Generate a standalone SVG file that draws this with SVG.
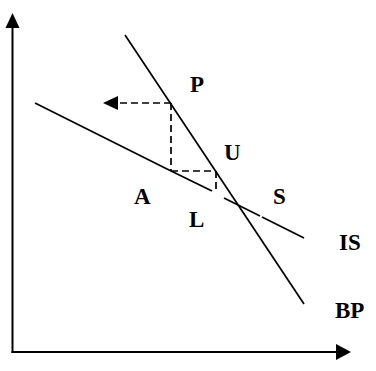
<svg xmlns="http://www.w3.org/2000/svg" width="376" height="371" viewBox="0 0 376 371">
<style>
.ln{stroke:#000;stroke-width:1.7;fill:none}
.ax{stroke:#000;stroke-width:2;fill:none}
.ds{stroke:#000;stroke-width:1.7;fill:none;stroke-dasharray:7 4}
.lb{font-family:"Liberation Serif","Times New Roman",serif;font-weight:bold;font-size:23px;fill:#000}
</style>
<rect width="376" height="371" fill="#fff"/>
<g id="axes">
<line class="ax" x1="12.5" y1="353" x2="12.5" y2="26"/>
<polygon points="12.5,13 5.5,28 19.5,28" fill="#000"/>
<line class="ax" x1="11.5" y1="352" x2="338" y2="352"/>
<polygon points="351,352 336,344 336,360" fill="#000"/>
</g>
<g id="connectors">
<line id="BP-line" class="ln" x1="125" y1="35" x2="304" y2="304"/>
<polyline id="IS-upper" class="ln" points="35,103 167,169 212,191"/>
<line id="IS-lower1" class="ln" x1="224" y1="198" x2="260" y2="216"/>
<line id="IS-lower2" class="ln" x1="262" y1="217" x2="304" y2="238"/>
<line class="ds" x1="171" y1="103" x2="117" y2="103"/>
<polygon points="103,103 118,96 118,110" fill="#000"/>
<line class="ds" x1="171" y1="103" x2="171" y2="170"/>
<line class="ds" x1="171" y1="171" x2="216" y2="171"/>
<line class="ds" x1="216" y1="171" x2="216" y2="192"/>
</g>
<g id="labels">
<text class="lb" x="190" y="92">P</text>
<text class="lb" x="224" y="160">U</text>
<text class="lb" x="273" y="204">S</text>
<text class="lb" x="134" y="204">A</text>
<text class="lb" x="189" y="227">L</text>
<text class="lb" x="339" y="250">IS</text>
<text class="lb" x="335" y="318">BP</text>
</g>
</svg>
